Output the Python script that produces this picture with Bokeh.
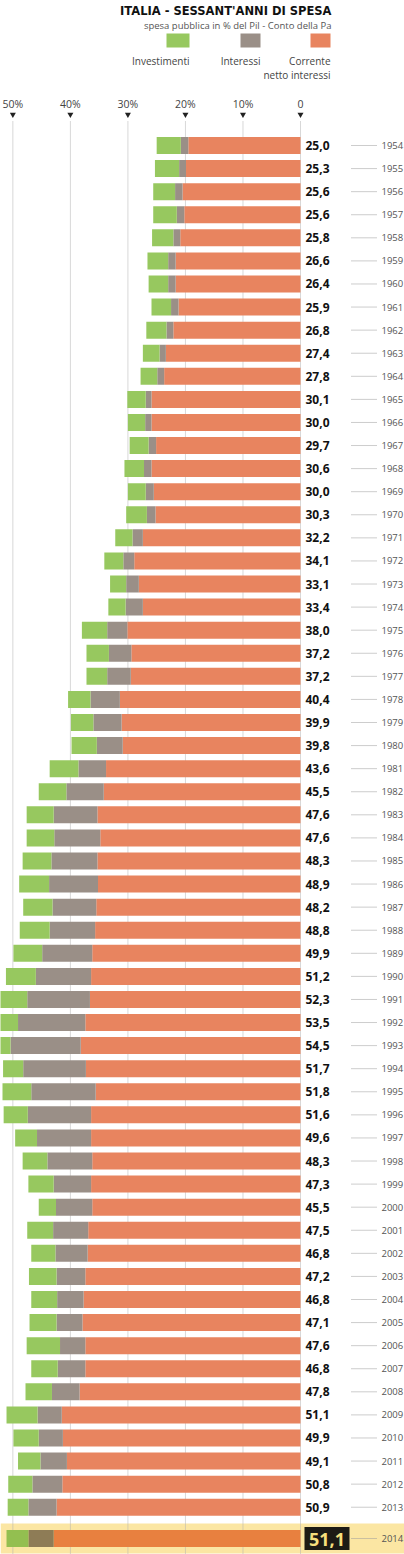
from bokeh.plotting import figure
from bokeh.models import Range1d, ColumnDataSource
from bokeh.core.properties import value
from bokeh.embed import file_html
from bokeh.resources import INLINE

# ---------------- data ----------------
anni = list(range(1954, 2015))
corrente = [19.5, 19.9, 20.5, 20.2, 20.9, 21.7, 21.7, 21.2, 22.1, 23.4,
            23.7, 25.9, 25.9, 25.1, 25.9, 25.5, 25.2, 27.4, 28.9, 28.1,
            27.4, 30.1, 29.4, 29.5, 31.4, 31.1, 30.9, 33.8, 34.2, 35.3,
            34.8, 35.3, 35.2, 35.5, 35.7, 36.2, 36.4, 36.6, 37.4, 38.2,
            37.3, 35.6, 36.4, 36.4, 36.2, 36.4, 36.2, 36.9, 37.0, 37.4,
            37.7, 37.9, 37.4, 37.4, 38.4, 41.5, 41.3, 40.6, 41.4, 42.4,
            42.9]
interessi = [1.3, 1.2, 1.3, 1.3, 1.2, 1.3, 1.3, 1.3, 1.2, 1.1,
             1.2, 1.0, 1.1, 1.3, 1.3, 1.4, 1.5, 1.8, 1.9, 2.2,
             3.0, 3.5, 3.9, 4.1, 5.1, 4.9, 4.5, 4.8, 6.5, 7.6,
             8.0, 8.0, 8.5, 7.6, 7.9, 8.7, 9.6, 10.9, 11.7, 12.2,
             10.9, 11.2, 11.0, 9.4, 7.8, 6.5, 6.3, 6.1, 5.6, 5.0,
             4.6, 4.5, 4.4, 4.8, 4.8, 4.2, 4.2, 4.6, 5.2, 4.9,
             4.4]
investimenti = [4.2, 4.2, 3.8, 4.1, 3.7, 3.6, 3.4, 3.4, 3.5, 2.9,
                2.9, 3.2, 3.0, 3.3, 3.4, 3.1, 3.6, 3.0, 3.3, 2.8,
                3.0, 4.4, 3.9, 3.6, 3.9, 3.9, 4.4, 5.0, 4.8, 4.7,
                4.8, 5.0, 5.2, 5.1, 5.2, 5.0, 5.2, 4.8, 4.4, 4.1,
                3.5, 5.0, 4.2, 3.8, 4.3, 4.4, 3.0, 4.5, 4.2, 4.8,
                4.5, 4.7, 5.8, 4.6, 4.6, 5.4, 4.4, 3.9, 4.2, 3.6,
                3.8]
totale = [25.0, 25.3, 25.6, 25.6, 25.8, 26.6, 26.4, 25.9, 26.8, 27.4,
          27.8, 30.1, 30.0, 29.7, 30.6, 30.0, 30.3, 32.2, 34.1, 33.1,
          33.4, 38.0, 37.2, 37.2, 40.4, 39.9, 39.8, 43.6, 45.5, 47.6,
          47.6, 48.3, 48.9, 48.2, 48.8, 49.9, 51.2, 52.3, 53.5, 54.5,
          51.7, 51.8, 51.6, 49.6, 48.3, 47.3, 45.5, 47.5, 46.8, 47.2,
          46.8, 47.1, 47.6, 46.8, 47.8, 51.1, 49.9, 49.1, 50.8, 50.9,
          51.1]
tick_valori = [50, 40, 30, 20, 10, 0]
tick_etichette = ["50%", "40%", "30%", "20%", "10%", "0"]
serie_nomi = ["Investimenti", "Interessi", "Corrente"]
serie_colori = ["#97c85f", "#9a8f87", "#e8845f"]
ultimo_colori = ["#93bf50", "#8e7c56", "#e8803f"]

titolo = "ITALIA - SESSANT'ANNI DI SPESA"
sottotitolo = "spesa pubblica in % del Pil - Conto della Pa"

# ---------------- layout helpers (page px -> data units) ----------------
PX_PCT = 5.753      # pixels per percentage point
ROW_PX = 23.08      # pixels per row
W, H = 404, 1554
def X(px):
    return (300 - px) / PX_PCT
def Y(py):
    return (py - 145) / ROW_PX

FONT = "Open Sans"
n = len(anni)
ypos = list(range(n - 1)) + [Y(1538)]

p = figure(width=W, height=H,
           x_range=Range1d(X(0), X(W)), y_range=Range1d(Y(H), Y(0)),
           output_backend="svg", toolbar_location=None, min_border=0,
           x_axis_location=None, y_axis_location=None)
p.grid.visible = False
p.outline_line_color = None
p.background_fill_color = "white"

# highlight band for the last year
p.hbar(y=[ypos[-1]], left=X(0), right=X(W), height=30 / ROW_PX,
       fill_color="#fbe6a3", line_color=None)

# dotted gridlines
p.segment(x0=tick_valori, x1=tick_valori, y0=[Y(121)] * 6, y1=[Y(H)] * 6,
          line_color="#b0b0b0", line_dash="1 1", line_width=1)

# stacked bars
c_right = corrente
i_right = [c + i for c, i in zip(corrente, interessi)]
v_right = [c + i + v for c, i, v in zip(corrente, interessi, investimenti)]
col_c = [serie_colori[2]] * (n - 1) + [ultimo_colori[2]]
col_i = [serie_colori[1]] * (n - 1) + [ultimo_colori[1]]
col_v = [serie_colori[0]] * (n - 1) + [ultimo_colori[0]]
src = ColumnDataSource(dict(y=ypos, c_right=c_right, i_right=i_right,
                            v_right=v_right, col_c=col_c, col_i=col_i,
                            col_v=col_v))
bh = 17 / ROW_PX
p.hbar(y="y", left=0, right="c_right", height=bh, fill_color="col_c",
       line_color=None, source=src)
p.hbar(y="y", left="c_right", right="i_right", height=bh, fill_color="col_i",
       line_color=None, source=src)
p.hbar(y="y", left="i_right", right="v_right", height=bh, fill_color="col_v",
       line_color=None, source=src)

# value labels
lab = [f"{t:.1f}".replace(".", ",") for t in totale]
p.text(x=[X(305)] * (n - 1), y=ypos[:-1], text=lab[:-1],
       text_font=value(FONT), text_font_style="bold", text_font_size="12px",
       text_color="#111111", text_align="left", text_baseline="middle")
# last value in a dark box
p.quad(left=[X(304)], right=[X(349)], top=[ypos[-1] - 11.5 / ROW_PX],
       bottom=[ypos[-1] + 11.5 / ROW_PX], fill_color="#1d1b15", line_color=None)
p.text(x=[X(326.5)], y=[ypos[-1] + 0.5 / ROW_PX], text=[lab[-1]],
       text_font=value(FONT), text_font_style="bold", text_font_size="18px",
       text_color="#f6df7c", text_align="center", text_baseline="middle")

# dotted connectors and years
p.segment(x0=[X(351)] * n, x1=[X(376)] * n, y0=ypos, y1=ypos,
          line_color="#9a9a9a", line_dash="1 1", line_width=1)
p.text(x=[X(381)] * n, y=ypos, text=[str(a) for a in anni],
       text_font=value(FONT), text_font_size="9.5px", text_color="#555555",
       text_align="left", text_baseline="middle")

# top axis: labels and triangles
p.text(x=tick_valori, y=[Y(103)] * 6, text=tick_etichette,
       text_font=value(FONT), text_font_size="10.5px", text_color="#444444",
       text_align="center", text_baseline="middle")
p.scatter(x=tick_valori, y=[Y(114)] * 6, marker="inverted_triangle", size=6,
          fill_color="#222222", line_color=None)

# title and subtitle
p.text(x=[X(331)], y=[Y(10)], text=[titolo], text_font=value("DejaVu Sans"),
       text_font_style="bold", text_font_size="11.5px", text_color="#111111",
       text_align="right", text_baseline="middle")
p.text(x=[X(331)], y=[Y(25)], text=[sottotitolo], text_font=value(FONT),
       text_font_size="9.5px", text_color="#555555",
       text_align="right", text_baseline="middle")

# legend
sq_left = [166, 240, 310]
sq_right = [189, 260, 330]
p.quad(left=[X(a) for a in sq_left], right=[X(b) for b in sq_right],
       top=[Y(33)] * 3, bottom=[Y(47)] * 3, fill_color=serie_colori,
       line_color=None)
p.text(x=[X(b) for b in sq_right], y=[Y(60)] * 3, text=serie_nomi,
       text_font=value(FONT), text_font_size="10px", text_color="#444444",
       text_align="right", text_baseline="middle")
p.text(x=[X(330)], y=[Y(74)], text=["netto interessi"],
       text_font=value(FONT), text_font_size="10px", text_color="#444444",
       text_align="right", text_baseline="middle")

open("out.html", "w").write(file_html(p, INLINE))
